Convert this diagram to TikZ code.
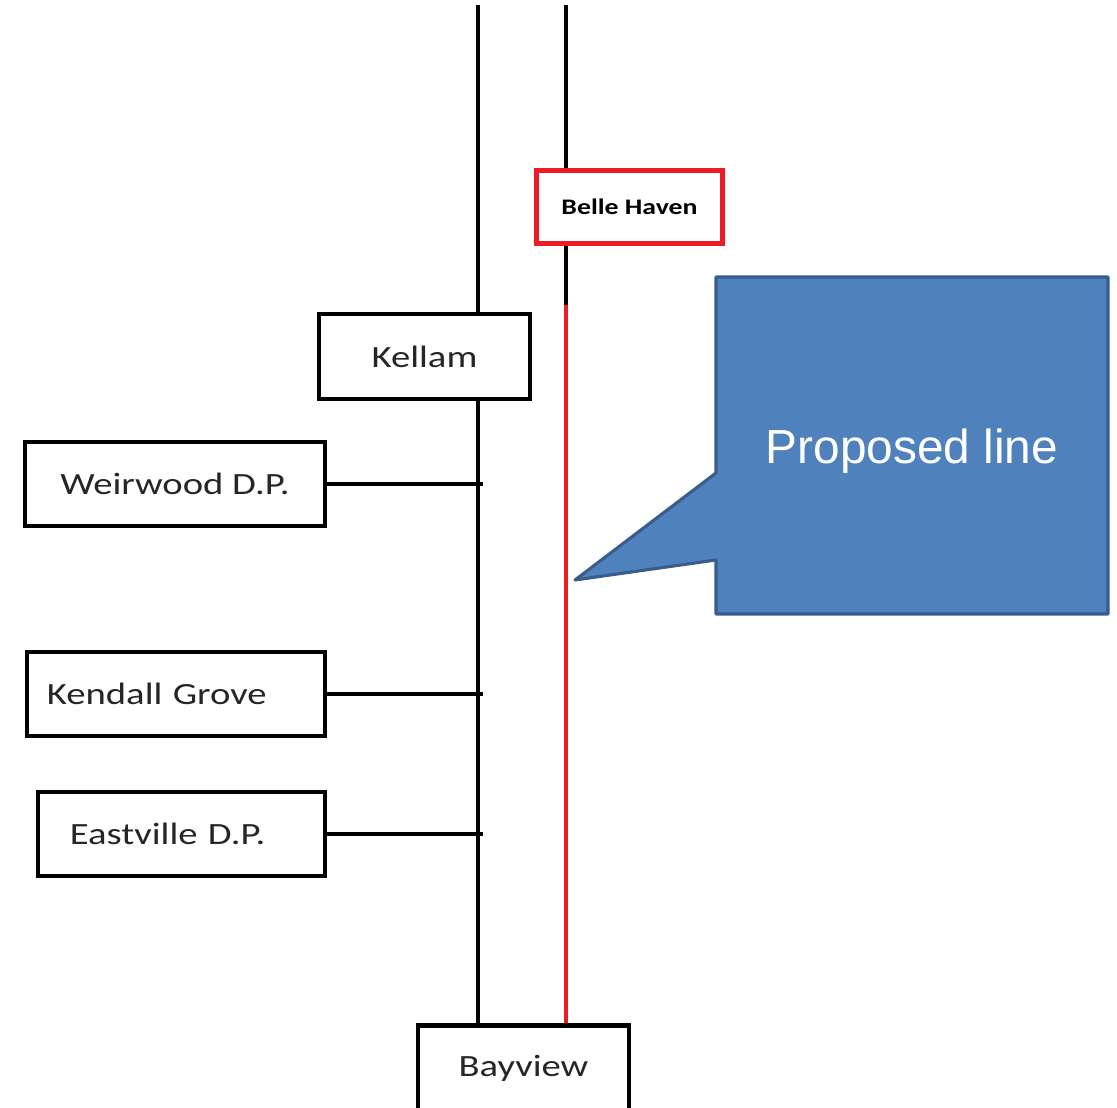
\documentclass[tikz,border=0pt]{standalone}
\usepackage{fontspec}
\setmainfont{Liberation Sans}
\newfontfamily\stationfont[FakeStretch=1.25]{Carlito}
\usepackage{tikz}
\usetikzlibrary{positioning}
\definecolor{linered}{HTML}{ED1C24}
\definecolor{calloutblue}{HTML}{4F81BD}
\definecolor{calloutedge}{HTML}{385D8A}
\tikzset{
  station/.style={rectangle, draw=black, line width=3.2pt, inner sep=0pt, minimum width=5.275cm, minimum height=2.125cm, font=\stationfont\fontsize{22}{26}\selectfont, text=black!85},
  wide/.style={minimum width=7.5cm, minimum height=2.1cm},
  newstation/.style={rectangle, draw=linered, line width=3.8pt, inner sep=0pt, minimum width=4.65cm, minimum height=1.825cm, font=\stationfont\bfseries\fontsize{15.8}{18}\selectfont},
  track/.style={line width=3pt, black},
  proposed/.style={line width=3pt, linered},
  callout/.style={fill=calloutblue, draw=calloutedge, line width=2.2pt, line join=round},
}

\begin{document}
\begin{tikzpicture}[x=0.025cm, y=-0.025cm]
  \useasboundingbox (0,0) rectangle (1117,1108);

  \node[station] (kellam) at (424.5,356.5) {Kellam};
  \node[station] (bayview) at (523.5,1068) {Bayview};
  \node[station, wide] (weirwood) at (175,484) {Weirwood D.P.};
  \node[station, wide, minimum width=7.45cm, inner xsep=0.5cm, text width=6.45cm, align=left] (kendall) at (176,694) {Kendall Grove};
  \node[station, wide, minimum width=7.175cm, inner xsep=0.8cm, text width=5.575cm, align=left] (eastville) at (181.5,834) {Eastville D.P.};
  \node[newstation] (bellehaven) at (629.5,207) {Belle Haven};

  \coordinate (mainline) at (478,5);
  \coordinate (newline) at (566,5);
  \coordinate (splice) at (566,305);
  \coordinate (stub) at (483,5);

  % existing line
  \draw[track] (mainline) -- (mainline |- kellam.north);
  \draw[track] (mainline |- kellam.south) -- (mainline |- bayview.north);
  \draw[track] (weirwood.east) -- (weirwood.east -| stub);
  \draw[track] (kendall.east) -- (kendall.east -| stub);
  \draw[track] (eastville.east) -- (eastville.east -| stub);

  % second line and proposed section
  \draw[track] (newline) -- (newline |- bellehaven.north);
  \draw[track] (newline |- bellehaven.south) -- (splice);
  \draw[proposed] (splice) -- (splice |- bayview.north);

  % callout
  \coordinate (tip) at (575,580);
  \draw[callout] (716,277) -- (1108,277) -- (1108,614) -- (716,614) -- (716,560) -- (tip) -- (716,473) -- cycle;
  \node[text=white, font=\fontsize{34}{40}\selectfont] (note) at (912,451) {Proposed line};
\end{tikzpicture}
\end{document}
